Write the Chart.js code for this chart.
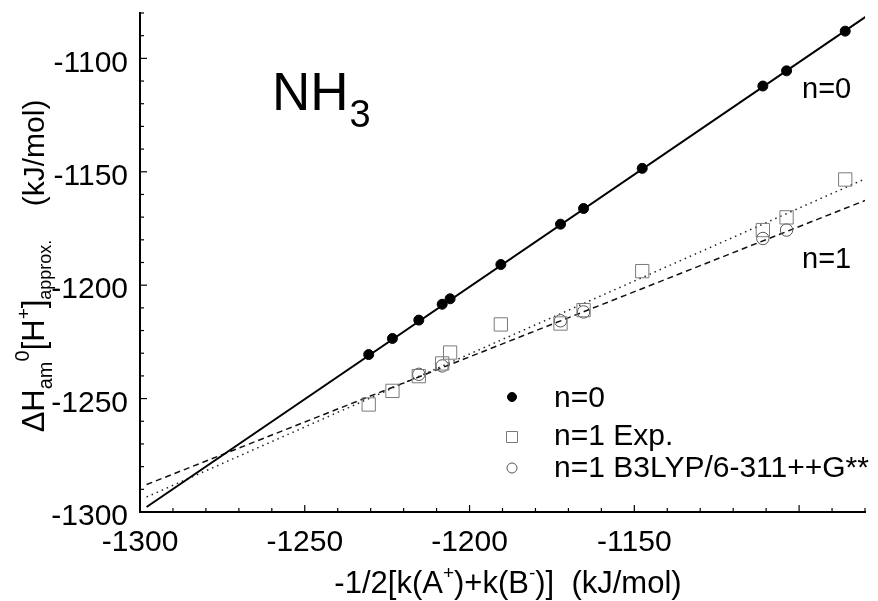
<!DOCTYPE html>
<html>
<head>
<meta charset="utf-8">
<script src="https://cdn.jsdelivr.net/npm/chart.js@4.4.1/dist/chart.umd.min.js"></script>
<style>
html,body{margin:0;padding:0;background:#fff;}
#wrap{width:878px;height:601px;position:relative;}
</style>
</head>
<body>
<div id="wrap"><canvas id="chart"></canvas></div>
<script>
// NH3: approximate proton affinity vs -1/2[k(A+)+k(B-)]

const FONT = '"Liberation Sans", Arial, Helvetica, sans-serif';

// n=0 (filled circles)
const xN0 = [-1230.6, -1223.4, -1215.4, -1208.3, -1205.9, -1190.5, -1172.4, -1165.4, -1147.6, -1111.0, -1103.8, -1086.0];
const yN0 = [-1230.6, -1223.5, -1215.4, -1208.4, -1206.0, -1190.9, -1173.1, -1166.2, -1148.5, -1112.2, -1105.5, -1088.0];
// n=1 experimental (open squares), same x values
const yExp = [-1252.6, -1246.6, -1240.1, -1234.5, -1229.7, -1217.3, -1216.9, -1211.0, -1193.8, -1175.7, -1170.1, -1153.4];
// n=1 B3LYP/6-311++G** (open circles)
const xCalc = [-1215.4, -1208.3, -1172.4, -1165.4, -1111.0, -1103.8];
const yCalc = [-1239.3, -1235.6, -1215.7, -1211.8, -1179.4, -1175.7];

// fitted lines, end points
const fitX = [-1298, -1079];
const fitN0 = [-1297.8, -1080.9];
const fitExp = [-1293.4, -1152.5];
const fitCalc = [-1287.9, -1162.1];

const axisMin = -1300, axisMax = -1080, majorStep = 50, minorStep = 10;

const legendLabels = ['n=0', 'n=1 Exp.', 'n=1 B3LYP/6-311++G**'];

function pts(xs, ys){ return xs.map((x, i) => ({x: x, y: ys[i]})); }

function drawRich(ctx, parts, x, y){
  let cx = x;
  for(const p of parts){
    ctx.font = p.size + 'px ' + FONT;
    ctx.fillText(p.t, cx, y + (p.dy || 0));
    cx += ctx.measureText(p.t).width;
  }
  return cx - x;
}
function richWidth(ctx, parts){
  let w = 0;
  for(const p of parts){ ctx.font = p.size + 'px ' + FONT; w += ctx.measureText(p.t).width; }
  return w;
}

// inward major/minor tick marks on both axes
const inwardTicks = {
  id: 'inwardTicks',
  afterDraw(chart){
    const {ctx, chartArea: a, scales: {x, y}} = chart;
    ctx.save();
    ctx.strokeStyle = '#000';
    ctx.lineWidth = 1.2;
    for(let v = axisMin; v <= axisMax; v += minorStep){
      const len = (v % majorStep === 0) ? 7 : 4;
      const px = x.getPixelForValue(v);
      ctx.beginPath(); ctx.moveTo(px, a.bottom); ctx.lineTo(px, a.bottom - len); ctx.stroke();
      const py = y.getPixelForValue(v);
      ctx.beginPath(); ctx.moveTo(a.left, py); ctx.lineTo(a.left + len, py); ctx.stroke();
    }
    ctx.restore();
  }
};

// axis titles, annotations and legend
const annotations = {
  id: 'annotations',
  afterDraw(chart){
    const ctx = chart.ctx;
    ctx.save();
    ctx.fillStyle = '#000';
    ctx.textBaseline = 'alphabetic';
    ctx.textAlign = 'left';

    // NH3
    ctx.font = '53px ' + FONT;
    ctx.fillText('NH', 272, 110);
    const w = ctx.measureText('NH').width;
    ctx.font = '38px ' + FONT;
    ctx.fillText('3', 272 + w + 1, 127);

    // line labels
    ctx.font = '29px ' + FONT;
    ctx.fillText('n=0', 802, 98);
    ctx.fillText('n=1', 802, 268);

    // x axis title
    const xt = [
      {t: '-1/2[k(A', size: 31},
      {t: '+', size: 19, dy: -14},
      {t: ')+k(B', size: 31},
      {t: '-', size: 19, dy: -14},
      {t: ')]  (kJ/mol)', size: 31}
    ];
    const xw = richWidth(ctx, xt);
    drawRich(ctx, xt, 508 - xw / 2, 593);

    // y axis title (rotated)
    const yt = [
      {t: '\u0394H', size: 31},
      {t: 'am', size: 20, dy: 8},
      {t: '0', size: 20, dy: -15},
      {t: '[H', size: 31},
      {t: '+', size: 19, dy: -14},
      {t: ']', size: 31},
      {t: 'approx.', size: 18, dy: 7},
      {t: '    (kJ/mol)', size: 30}
    ];
    const yw = richWidth(ctx, yt);
    ctx.save();
    ctx.translate(44, 266 + yw / 2);
    ctx.rotate(-Math.PI / 2);
    drawRich(ctx, yt, 0, 0);
    ctx.restore();

    // legend
    const rows = [397, 437, 468];
    const base = [407, 445, 477];
    const ds = chart.data.datasets;
    for(let i = 0; i < 3; i++){
      const d = ds[i];
      const mx = 512, my = rows[i];
      ctx.lineWidth = 1;
      ctx.strokeStyle = d.borderColor;
      ctx.fillStyle = d.backgroundColor;
      ctx.beginPath();
      if(d.pointStyle === 'rect'){
        ctx.rect(mx - 5.5, my - 5.5, 11, 11);
      } else {
        ctx.arc(mx, my, i === 0 ? 4.5 : 5, 0, Math.PI * 2);
      }
      if(d.backgroundColor !== 'transparent') ctx.fill();
      ctx.stroke();
      ctx.fillStyle = '#000';
      ctx.font = '30px ' + FONT;
      ctx.fillText(legendLabels[i], 554, base[i]);
    }
    ctx.restore();
  }
};

const onlyMajor = (scale) => {
  scale.ticks = scale.ticks.filter(t => t.value % majorStep === 0);
};

const ctx = document.getElementById('chart').getContext('2d');
new Chart(ctx, {
  type: 'scatter',
  data: {
    datasets: [
      {
        label: legendLabels[0], data: pts(xN0, yN0),
        pointStyle: 'circle', pointRadius: 5, borderWidth: 1,
        borderColor: '#000', backgroundColor: '#000', showLine: false, order: 1
      },
      {
        label: legendLabels[1], data: pts(xN0, yExp),
        pointStyle: 'rect', pointRadius: 9.4, borderWidth: 1,
        borderColor: '#7a7a7a', backgroundColor: 'transparent', showLine: false, order: 2
      },
      {
        label: legendLabels[2], data: pts(xCalc, yCalc),
        pointStyle: 'circle', pointRadius: 6.2, borderWidth: 1,
        borderColor: '#555', backgroundColor: 'transparent', showLine: false, order: 3
      },
      {
        label: 'fit n=0', data: pts(fitX, fitN0), showLine: true, pointRadius: 0,
        borderColor: '#000', borderWidth: 2, order: 4
      },
      {
        label: 'fit Exp', data: pts(fitX, fitExp), showLine: true, pointRadius: 0,
        borderColor: '#222', borderWidth: 1.5, borderDash: [1.5, 4], order: 5
      },
      {
        label: 'fit B3LYP', data: pts(fitX, fitCalc), showLine: true, pointRadius: 0,
        borderColor: '#111', borderWidth: 1.5, borderDash: [6, 4], order: 6
      }
    ]
  },
  options: {
    responsive: true,
    maintainAspectRatio: false,
    animation: false,
    events: [],
    layout: { padding: { top: 13, right: 13, left: 0, bottom: 0 } },
    plugins: { legend: { display: false }, tooltip: { enabled: false } },
    scales: {
      x: {
        type: 'linear', min: axisMin, max: axisMax,
        grid: { display: false, drawTicks: false, tickLength: 0 },
        border: { display: true, color: '#000', width: 2 },
        ticks: { stepSize: majorStep, color: '#000', padding: 13, maxRotation: 0,
                 font: { family: FONT, size: 30 }, callback: (v) => String(v) },
        afterBuildTicks: onlyMajor,
        afterFit: (s) => { s.height = 89; s.paddingLeft = 0; s.paddingRight = 0; }
      },
      y: {
        type: 'linear', min: axisMin, max: axisMax,
        grid: { display: false, drawTicks: false, tickLength: 0 },
        border: { display: true, color: '#000', width: 2 },
        ticks: { stepSize: majorStep, color: '#000', padding: 12, labelOffset: 5,
                 font: { family: FONT, size: 30 }, callback: (v) => String(v) },
        afterBuildTicks: onlyMajor,
        afterFit: (s) => { s.width = 140; s.paddingTop = 0; s.paddingBottom = 0; }
      }
    }
  },
  plugins: [inwardTicks, annotations]
});
</script>
</body>
</html>
